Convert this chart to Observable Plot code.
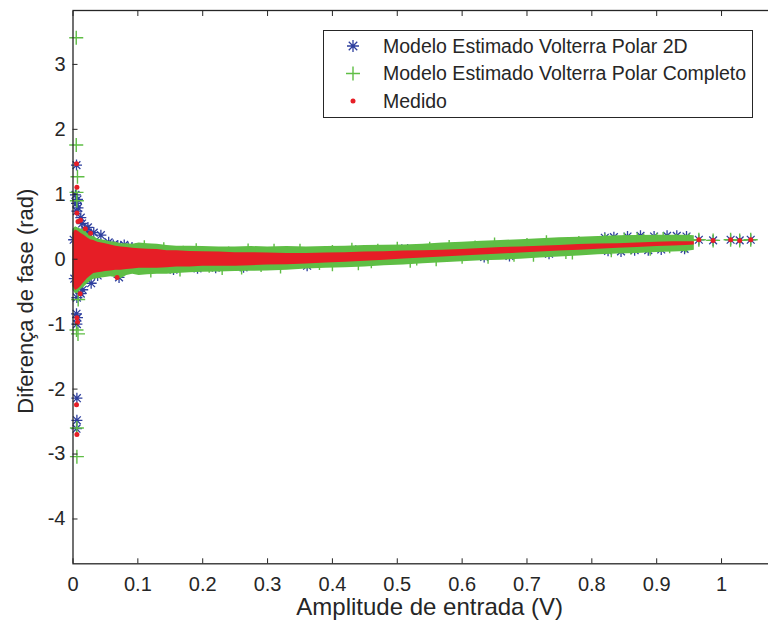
<!DOCTYPE html>
<html>
<head>
<meta charset="utf-8">
<script src="https://cdn.jsdelivr.net/npm/d3@7"></script>
<script src="https://cdn.jsdelivr.net/npm/@observablehq/plot@0.6"></script>
<style>
html, body { margin: 0; padding: 0; background: #fff; width: 768px; height: 631px; overflow: hidden; }
#chart { position: absolute; left: 0; top: 0; }
</style>
</head>
<body>
<div id="chart"></div>
<script>
// ---------- data ----------
const xLimits = [0, 1.1];
const yLimits = [-4.69, 3.83];
const xTicks = [0, 0.1, 0.2, 0.3, 0.4, 0.5, 0.6, 0.7, 0.8, 0.9, 1];
const yTicks = [-4, -3, -2, -1, 0, 1, 2, 3];
const xLabel = "Amplitude de entrada (V)";
const yLabel = "Diferença de fase (rad)";
const seriesNames = ["Modelo Estimado Volterra Polar 2D", "Modelo Estimado Volterra Polar Completo", "Medido"];

// dense band envelope
const bandX   = [0.000, 0.004, 0.008, 0.012, 0.017, 0.022, 0.027, 0.032, 0.038, 0.044, 0.050, 0.058, 0.066, 0.074, 0.083, 0.092, 0.102, 0.115, 0.130, 0.145, 0.160, 0.180, 0.200, 0.225, 0.250, 0.275, 0.300, 0.330, 0.360, 0.390, 0.420, 0.450, 0.480, 0.510, 0.540, 0.570, 0.600, 0.630, 0.660, 0.690, 0.720, 0.750, 0.780, 0.810, 0.840, 0.870, 0.900, 0.925, 0.945, 0.958];
const redHi   = [0.40, 0.45, 0.43, 0.40, 0.37, 0.33, 0.30, 0.29, 0.26, 0.25, 0.24, 0.22, 0.20, 0.19, 0.18, 0.17, 0.16, 0.155, 0.15, 0.13, 0.13, 0.12, 0.115, 0.11, 0.10, 0.10, 0.095, 0.09, 0.09, 0.095, 0.10, 0.11, 0.115, 0.125, 0.13, 0.14, 0.15, 0.165, 0.18, 0.19, 0.20, 0.21, 0.225, 0.235, 0.24, 0.25, 0.26, 0.27, 0.27, 0.27];
const redLo   = [-0.42, -0.48, -0.46, -0.42, -0.36, -0.30, -0.26, -0.22, -0.21, -0.20, -0.19, -0.18, -0.17, -0.17, -0.16, -0.15, -0.14, -0.14, -0.14, -0.13, -0.12, -0.12, -0.11, -0.11, -0.11, -0.10, -0.09, -0.085, -0.075, -0.06, -0.045, -0.03, -0.015, 0.005, 0.02, 0.035, 0.05, 0.065, 0.08, 0.095, 0.11, 0.125, 0.14, 0.155, 0.17, 0.18, 0.195, 0.205, 0.21, 0.22];
const greenHi = [0.46, 0.50, 0.48, 0.46, 0.46, 0.40, 0.36, 0.35, 0.31, 0.30, 0.29, 0.27, 0.26, 0.24, 0.24, 0.23, 0.25, 0.24, 0.23, 0.21, 0.20, 0.20, 0.195, 0.19, 0.19, 0.195, 0.19, 0.195, 0.19, 0.195, 0.20, 0.21, 0.215, 0.22, 0.23, 0.25, 0.26, 0.275, 0.29, 0.30, 0.315, 0.33, 0.34, 0.35, 0.36, 0.365, 0.37, 0.37, 0.37, 0.36];
const greenLo = [-0.48, -0.53, -0.52, -0.47, -0.43, -0.38, -0.34, -0.31, -0.30, -0.29, -0.28, -0.27, -0.28, -0.30, -0.25, -0.23, -0.25, -0.24, -0.23, -0.23, -0.22, -0.21, -0.20, -0.195, -0.19, -0.185, -0.18, -0.17, -0.15, -0.14, -0.13, -0.12, -0.10, -0.09, -0.07, -0.055, -0.04, -0.025, -0.015, 0.00, 0.02, 0.035, 0.05, 0.07, 0.08, 0.09, 0.105, 0.11, 0.12, 0.14];

// individually visible markers
const blueX = [0.0054, 0.0038, 0.0069, 0.0054, 0.0077, 0.006, 0.014, 0.018, 0.023,
  0.0054, 0.0069, 0.006, 0.006, 0.015, 0.006, 0.006, 0.0054,
  0.012, 0.023, 0.032, 0.043, 0.055, 0.069, 0.085,
  0.012, 0.028, 0.038, 0.071, 0.002, 0.001,
  0.062, 0.079, 0.091, 0.114, 0.132, 0.436, 0.507, 0.516,
  0.155, 0.192, 0.220, 0.263, 0.361, 0.634, 0.673, 0.734, 0.758,
  0.820, 0.834, 0.855, 0.875, 0.896, 0.916, 0.931, 0.946,
  0.825, 0.845, 0.866, 0.887, 0.907, 0.943,
  0.965, 0.987, 1.014, 1.028, 1.045];
const blueY = [1.45, 0.99, 0.92, 0.86, 0.79, 0.74, 0.55, 0.46, 0.41,
  -0.84, -0.90, -1.00, -0.59, -0.47, -2.14, -2.48, -2.61,
  0.64, 0.49, 0.41, 0.37, 0.26, 0.21, 0.18,
  -0.53, -0.37, -0.25, -0.28, -0.30, 0.30,
  0.22, 0.22, 0.18, 0.15, 0.14, 0.13, 0.145, 0.15,
  -0.16, -0.14, -0.13, -0.125, -0.10, 0.035, 0.05, 0.085, 0.24,
  0.33, 0.34, 0.35, 0.36, 0.35, 0.36, 0.36, 0.35,
  0.13, 0.12, 0.14, 0.14, 0.15, 0.16,
  0.30, 0.29, 0.30, 0.29, 0.30];

const greenX = [0.005, 0.005, 0.0069, 0.0054, 0.006, 0.0054, 0.0077, 0.006, 0.006, 0.008,
  0.17, 0.24, 0.33, 0.40, 0.47, 0.55, 0.62, 0.70, 0.78,
  0.21, 0.29, 0.38, 0.46, 0.53, 0.60, 0.68, 0.76,
  0.11, 0.14, 0.19, 0.27, 0.31, 0.35, 0.43, 0.50, 0.58, 0.65, 0.73, 0.82, 0.87, 0.91,
  0.12, 0.165, 0.23, 0.26, 0.32, 0.40, 0.44, 0.52, 0.56, 0.64, 0.71, 0.77, 0.83, 0.89,
  0.85, 0.88, 0.90, 0.93, 0.95, 0.86, 0.89, 0.92, 0.945,
  0.965, 0.987, 1.014, 1.028, 1.045];
const greenY = [3.41, 1.76, 1.27, 1.03, 0.90, -1.09, -1.15, -2.60, -3.04, -0.62,
  0.10, 0.09, 0.09, 0.11, 0.13, 0.16, 0.18, 0.22, 0.25,
  -0.10, -0.09, -0.06, -0.03, 0.01, 0.04, 0.07, 0.11,
  0.185, 0.155, 0.14, 0.135, 0.13, 0.13, 0.145, 0.16, 0.19, 0.225, 0.26, 0.29, 0.305, 0.31,
  -0.175, -0.157, -0.134, -0.128, -0.113, -0.077, -0.063, -0.023, 0.00, 0.038, 0.07, 0.105, 0.137, 0.16,
  0.30, 0.29, 0.30, 0.28, 0.29, 0.18, 0.19, 0.20, 0.21,
  0.30, 0.29, 0.30, 0.29, 0.30];

const redX = [0.0054, 0.006, 0.006, 0.0077, 0.0116, 0.019, 0.027, 0.006, 0.0069, 0.011, 0.068, 0.0054, 0.006,
  0.965, 0.987, 1.014, 1.028, 1.045];
const redY = [1.47, 1.11, 0.71, 0.58, 0.60, 0.47, 0.40, -0.90, -0.97, -0.53, -0.28, -2.24, -2.70,
  0.30, 0.29, 0.30, 0.29, 0.30];

// ---------- styling ----------
const BLUE = "#2e3f9e";
const GREEN = "#5fbe45";
const RED = "#e61e26";
const INK = "#262626";
const FONT = "'Liberation Sans', Arial, Helvetica, sans-serif";

const band = bandX.map((x, i) => ({x, rLo: redLo[i], rHi: redHi[i], gLo: greenLo[i], gHi: greenHi[i]}));
const pts = (xs, ys) => xs.map((x, i) => ({x, y: ys[i]}));
const bluePts = pts(blueX, blueY);
const greenPts = pts(greenX, greenY);
const redPts = pts(redX, redY);

// MATLAB-like markers
const asteriskSym = {draw(ctx, size) {
  const r = Math.sqrt(size / Math.PI), d = r * Math.SQRT1_2;
  ctx.moveTo(0, -r); ctx.lineTo(0, r);
  ctx.moveTo(-r, 0); ctx.lineTo(r, 0);
  ctx.moveTo(-d, -d); ctx.lineTo(d, d);
  ctx.moveTo(-d, d); ctx.lineTo(d, -d);
}};
const plusSym = {draw(ctx, size) {
  const r = Math.sqrt(size / Math.PI);
  ctx.moveTo(0, -r); ctx.lineTo(0, r);
  ctx.moveTo(-r, 0); ctx.lineTo(r, 0);
}};

const W = 790, H = 631;
const plot = Plot.plot({
  width: W, height: H,
  marginLeft: 72.5, marginRight: 4.1, marginTop: 10, marginBottom: 67.7,
  x: {domain: xLimits},
  y: {domain: yLimits},
  style: {fontFamily: FONT, fontSize: "20px", color: INK, background: "white", maxWidth: "none", overflow: "visible"},
  marks: [
    Plot.dot(bluePts, {x: "x", y: "y", symbol: asteriskSym, r: 5.5, stroke: BLUE, fill: "none", strokeWidth: 1.3}),
    Plot.areaY(band, {x: "x", y1: "gLo", y2: "gHi", fill: GREEN}),
    Plot.dot(greenPts, {x: "x", y: "y", symbol: plusSym, r: 7, stroke: GREEN, fill: "none", strokeWidth: 1.4}),
    Plot.areaY(band, {x: "x", y1: "rLo", y2: "rHi", fill: RED}),
    Plot.dot(redPts, {x: "x", y: "y", r: 2.5, fill: RED, stroke: "none"}),
    Plot.axisX({ticks: xTicks, tickSize: -5, tickPadding: 17.7, tickFormat: d => String(d), label: null, fontSize: 20, stroke: INK}),
    Plot.axisX({anchor: "top", ticks: xTicks, tickSize: -5, tickFormat: () => "", label: null, stroke: INK}),
    Plot.axisY({ticks: yTicks, tickSize: -5, tickPadding: 12.5, tickFormat: d => String(d), label: null, fontSize: 20, stroke: INK}),
    Plot.frame({stroke: INK, strokeWidth: 1.3}),
    Plot.text([xLabel], {frameAnchor: "bottom", lineAnchor: "middle", textAnchor: "middle", dy: 44, fontSize: 24, fill: INK}),
    Plot.text([yLabel], {frameAnchor: "left", lineAnchor: "middle", textAnchor: "middle", rotate: -90, dx: -47.5, dy: 14, fontSize: 22, fill: INK})
  ]
});

// legend box inside the axes
const svg = d3.select(plot);
const lg = svg.append("g").attr("font-family", FONT).attr("font-size", 19.5).attr("fill", INK).attr("text-anchor", "start");
lg.append("rect").attr("x", 323.5).attr("y", 30.5).attr("width", 429).attr("height", 87)
  .attr("fill", "white").attr("stroke", INK).attr("stroke-width", 1);
const rowY = [46, 73.5, 101];
const legendMarks = [
  {type: asteriskSym, size: Math.PI * 36, stroke: BLUE, fill: "none", sw: 1.3},
  {type: plusSym, size: Math.PI * 49, stroke: GREEN, fill: "none", sw: 1.4},
  {type: d3.symbolCircle, size: Math.PI * 6.25, stroke: "none", fill: RED, sw: 0}
];
seriesNames.forEach((name, i) => {
  const m = legendMarks[i];
  lg.append("path").attr("transform", `translate(353,${rowY[i]})`)
    .attr("d", d3.symbol().type(m.type).size(m.size)())
    .attr("stroke", m.stroke).attr("fill", m.fill).attr("stroke-width", m.sw);
  lg.append("text").attr("x", 383).attr("y", rowY[i]).attr("dy", "0.35em").attr("text-anchor", "start").text(name);
});

document.getElementById("chart").appendChild(plot);
</script>
</body>
</html>
